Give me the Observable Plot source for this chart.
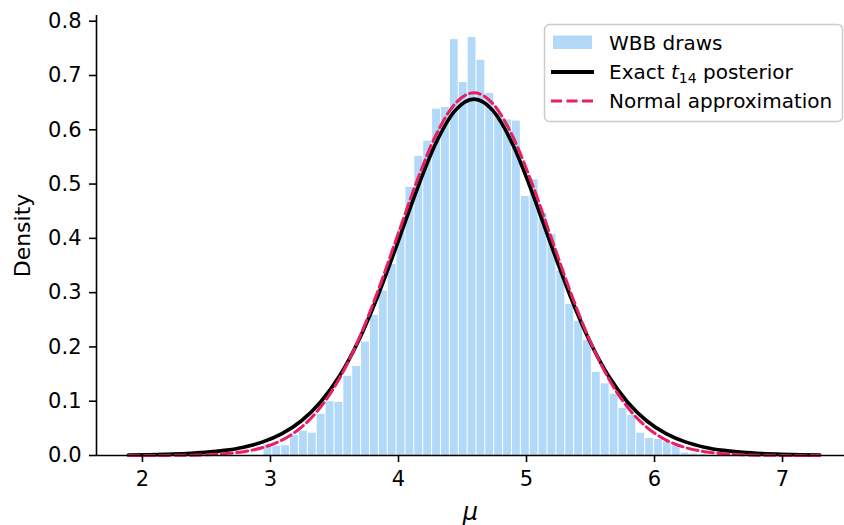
<!DOCTYPE html>
<html>
<head>
<meta charset="utf-8">
<script src="https://cdn.jsdelivr.net/npm/d3@7"></script>
<script src="https://cdn.jsdelivr.net/npm/@observablehq/plot@0.6"></script>
<style>
  html, body { margin: 0; padding: 0; background: white; }
</style>
</head>
<body>
<div id="chart"></div>
<script>
// ---- Data ----
const histMin = 2.945;
const histMax = 6.412;
const binDensity = [
  0.020, 0.017, 0.018, 0.037, 0.045, 0.041, 0.076, 0.099, 0.098, 0.146,
  0.164, 0.209, 0.258, 0.303, 0.352, 0.415,
  0.494, 0.551, 0.579, 0.638, 0.641, 0.766, 0.687, 0.770, 0.728, 0.667,
  0.630, 0.618, 0.616, 0.477, 0.508, 0.446, 0.407, 0.340, 0.278, 0.247,
  0.212, 0.153, 0.132, 0.113, 0.087, 0.074, 0.041, 0.031, 0.0295, 0.0245,
  0.0175, 0.0045, 0.003, 0.002
];
const muGrid = [
  1.89, 2.04, 2.19, 2.34, 2.49, 2.64, 2.79, 2.94, 3.09, 3.24, 3.39, 3.54, 3.69,
  3.84, 3.99, 4.14, 4.29, 4.44, 4.59, 4.74, 4.89, 5.04, 5.19, 5.34, 5.49, 5.64,
  5.79, 5.94, 6.09, 6.24, 6.39, 6.54, 6.69, 6.84, 6.99, 7.14, 7.29
];
const tDensity = [
  0.000765, 0.001259, 0.002076, 0.003435, 0.00568, 0.00938, 0.0154, 0.02506,
  0.04026, 0.06354, 0.09803, 0.1469, 0.2124, 0.2947, 0.3893, 0.4872, 0.5741,
  0.6347, 0.6565, 0.6347, 0.5741, 0.4872, 0.3893, 0.2947, 0.2124, 0.1469,
  0.09803, 0.06354, 0.04026, 0.02506, 0.0154, 0.00938, 0.00568, 0.003435,
  0.002076, 0.001259, 0.000765
];
const normalDensity = [
  0.0000242, 0.000073, 0.000207, 0.000551, 0.001375, 0.00322, 0.0071, 0.01466,
  0.02845, 0.05182, 0.08862, 0.1423, 0.2145, 0.3035, 0.4033, 0.503, 0.589,
  0.6474, 0.6682, 0.6474, 0.589, 0.503, 0.4033, 0.3035, 0.2145, 0.1423,
  0.08862, 0.05182, 0.02845, 0.01466, 0.0071, 0.00322, 0.001375, 0.000551,
  0.000207, 0.000073, 0.0000242
];
const xTicks = [2, 3, 4, 5, 6, 7];
const yTicks = [0, 0.1, 0.2, 0.3, 0.4, 0.5, 0.6, 0.7, 0.8];
const legendLabels = ["WBB draws", "Exact", "posterior", "Normal approximation"];

// ---- Tables built from the arrays ----
const binW = (histMax - histMin) / binDensity.length;
const bins = binDensity.map((d, i) => ({x1: histMin + i * binW, x2: histMin + (i + 1) * binW, density: d}));
const tRows = muGrid.map((m, i) => ({mu: m, density: tDensity[i]}));
const nRows = muGrid.map((m, i) => ({mu: m, density: normalDensity[i]}));

const barColor = "#b3d9f8";
const pink = "#e91e63";
const xDom = [1.641, 7.484];
const yDom = [0, 0.8105];

const svg = Plot.plot({
  width: 844,
  height: 525,
  marginLeft: 96,
  marginRight: 0,
  marginTop: 15,
  marginBottom: 70,
  style: {fontFamily: "'DejaVu Sans', sans-serif", fontSize: "20px", color: "black", background: "white"},
  x: {domain: xDom},
  y: {domain: yDom},
  marks: [
    Plot.rectY(bins, {x1: "x1", x2: "x2", y: "density", fill: barColor, insetLeft: 0.5, insetRight: 0.5}),
    Plot.line(tRows, {x: "mu", y: "density", stroke: "black", strokeWidth: 3.6, curve: "monotone-x"}),
    Plot.line(nRows, {x: "mu", y: "density", stroke: pink, strokeWidth: 3, strokeDasharray: "11,4.5", curve: "monotone-x"}),
    Plot.ruleX([xDom[0]], {y1: yDom[0], y2: yDom[1], stroke: "black", strokeWidth: 1.6}),
    Plot.ruleY([0], {stroke: "black", strokeWidth: 1.6}),
    Plot.axisX({ticks: xTicks, tickSize: 7, tickPadding: 9, strokeWidth: 1.6, label: null, fontSize: 21, tickFormat: d3.format("d")}),
    Plot.axisY({ticks: yTicks, tickSize: 7, tickPadding: 8, strokeWidth: 1.6, label: null, fontSize: 21, tickFormat: d3.format(".1f")}),
    Plot.text(["Density"], {text: d => d, frameAnchor: "left", dx: -74, rotate: -90, textAnchor: "middle", lineAnchor: "middle", fontSize: 22}),
    Plot.text(["μ"], {text: d => d, frameAnchor: "bottom", dy: 57, textAnchor: "middle", lineAnchor: "middle", fontStyle: "italic", fontSize: 24})
  ]
});

// ---- Legend inside the plot (upper right) ----
const g = d3.select(svg).append("g")
  .attr("font-family", "'DejaVu Sans', sans-serif").attr("font-size", 20).attr("text-anchor", "start");
g.append("rect").attr("x", 544.5).attr("y", 24.5).attr("width", 298).attr("height", 97).attr("rx", 5)
  .attr("fill", "white").attr("fill-opacity", 0.8).attr("stroke", "#cccccc").attr("stroke-width", 1.5);
g.append("rect").attr("x", 553).attr("y", 35.5).attr("width", 39).attr("height", 13.5).attr("fill", barColor);
g.append("line").attr("x1", 551).attr("x2", 594).attr("y1", 72).attr("y2", 72).attr("stroke", "black").attr("stroke-width", 3.8);
g.append("line").attr("x1", 551).attr("x2", 594).attr("y1", 101).attr("y2", 101).attr("stroke", pink).attr("stroke-width", 3).attr("stroke-dasharray", "11,4.5");
g.append("text").attr("x", 609).attr("y", 49.5).text(legendLabels[0]);
const t2 = g.append("text").attr("x", 609).attr("y", 78.5);
t2.append("tspan").text(legendLabels[1] + " ");
t2.append("tspan").attr("font-style", "italic").text("t");
t2.append("tspan").attr("font-size", 14).attr("dy", 4).text("14");
t2.append("tspan").attr("dy", -4).text(" " + legendLabels[2]);
g.append("text").attr("x", 609).attr("y", 107.5).text(legendLabels[3]);

document.getElementById("chart").appendChild(svg);
</script>
</body>
</html>
